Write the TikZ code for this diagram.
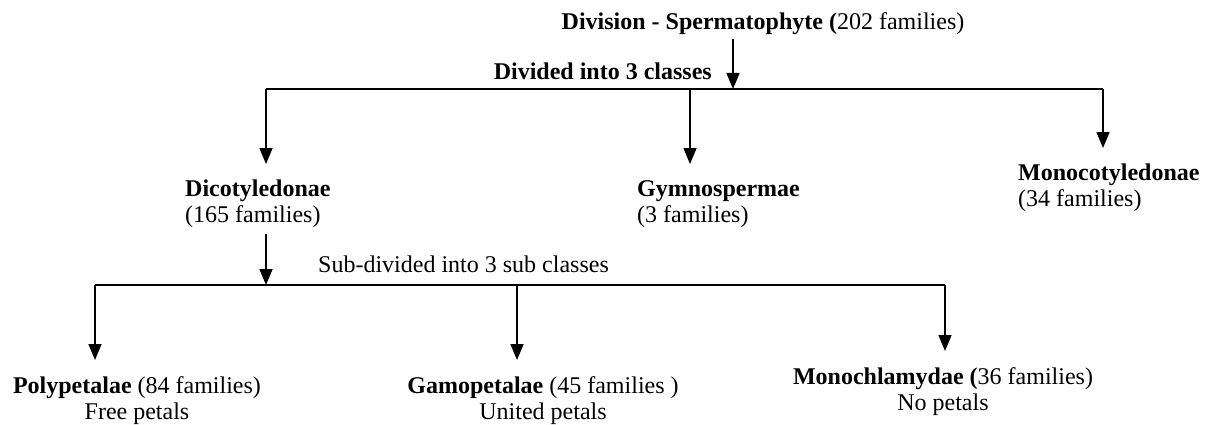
\documentclass[tikz,border=0pt]{standalone}
\usepackage{fontspec}
\setmainfont{Liberation Serif}
\usetikzlibrary{arrows.meta,positioning}

\begin{document}
\begin{tikzpicture}[x=1pt,y=-1pt,
    every node/.style={font=\fontsize{24}{26}\selectfont, inner sep=0pt},
    bar/.style={line width=1.6pt},
    link/.style={line width=1.6pt, -{Triangle[length=16pt,width=13pt]}, shorten >=16pt}]
  \useasboundingbox (0,0) rectangle (1209,425);

  % division
  \node[anchor=base] (div) at (763,30) {\textbf{Division - Spermatophyte (}202 families)};
  \node[anchor=base east] (classes) at (712,80) {\textbf{Divided into 3 classes}};

  % classes
  \node[anchor=north west, align=left] (dicot) at (185,180) {\textbf{Dicotyledonae}\\(165 families)};
  \node[anchor=north west, align=left] (gymno) at (637,180) {\textbf{Gymnospermae}\\(3 families)};
  \node[anchor=north west, align=left] (monocot) at (1018,164) {\textbf{Monocotyledonae}\\(34 families)};

  % sub classes
  \node[anchor=base west] (subclasses) at (318,272) {Sub-divided into 3 sub classes};
  \node[anchor=north, align=center] (poly) at (137,376) {\textbf{Polypetalae} (84 families)\\Free petals};
  \node[anchor=north, align=center] (gamo) at (543,376) {\textbf{Gamopetalae} (45 families )\\United petals};
  \node[anchor=north, align=center] (monochl) at (943,367) {\textbf{Monochlamydae (}36 families)\\No petals};

  % bars
  \coordinate (top) at (733,89);
  \coordinate (dicotin) at (266,89);
  \coordinate (gymnoin) at (690,89);
  \coordinate (monocotin) at (1103,89);
  \coordinate (sub) at (266,285);
  \coordinate (polyin) at (95,285);
  \coordinate (gamoin) at (517,285);
  \coordinate (monochlin) at (945,285);
  \draw[bar] (dicotin) -- (monocotin);
  \draw[bar] (polyin) -- (monochlin);

  \draw[link, shorten >=0pt, shorten <=4pt] (div.south -| top) -- (top);
  \draw[link] (dicotin) -- (dicot.north -| dicotin);
  \draw[link] (gymnoin) -- (gymno.north -| gymnoin);
  \draw[link] (monocotin) -- (monocot.north -| monocotin);
  \draw[link, shorten >=0pt, shorten <=6pt] (dicot.south -| sub) -- (sub);
  \draw[link] (polyin) -- (poly.north -| polyin);
  \draw[link] (gamoin) -- (gamo.north -| gamoin);
  \draw[link] (monochlin) -- (monochl.north -| monochlin);
\end{tikzpicture}
\end{document}
